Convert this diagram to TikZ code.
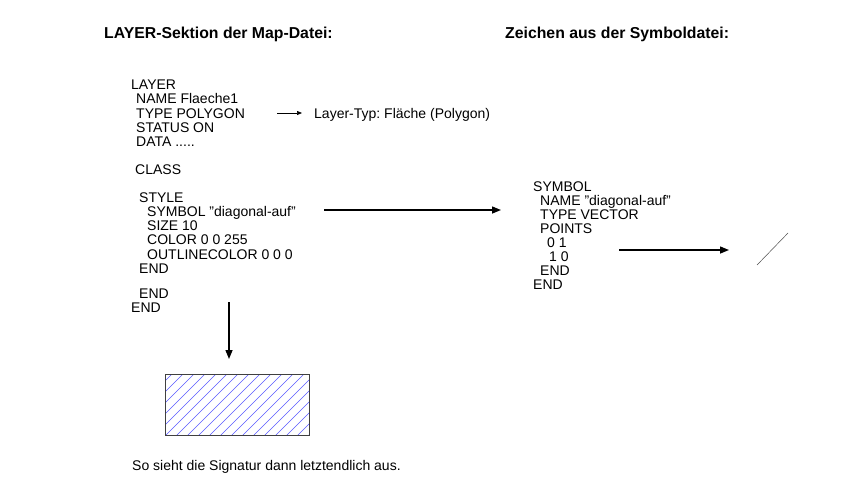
\documentclass[tikz,border=0pt]{standalone}
\usepackage{fontspec}
\setmainfont{Liberation Sans}
\usetikzlibrary{arrows.meta,positioning,calc}
\tikzset{
  code/.style={anchor=base west, inner sep=0pt, font=\fontsize{14}{16}\selectfont},
  heading/.style={anchor=base west, inner sep=0pt, font=\bfseries\fontsize{15.8}{18}\selectfont},
  pointer/.style={-{Triangle[length=9pt,width=7pt]}, line width=1.4pt},
  smallpointer/.style={-{Triangle[length=5pt,width=4pt]}, line width=0.7pt},
  hatch/.style={blue!65, line width=0.6pt}
}
\frenchspacing
\begin{document}
\begin{tikzpicture}[x=1pt,y=-1pt]
  \useasboundingbox (0,0) rectangle (850,501);
  % headings
  \node[heading] (maphead) at (104,38.5) {LAYER-Sektion der Map-Datei:};
  \node[heading] (symhead) at (505,38.5) {Zeichen aus der Symboldatei:};
  % layer section
  \foreach \x/\y/\txt [count=\i] in {131/89/LAYER, 136/103.5/NAME Flaeche1, 136/118/TYPE POLYGON,
      136/132/STATUS ON, 136/146/{DATA .....}, 135/174/CLASS, 139/202/STYLE,
      147/216/SYMBOL "diagonal-auf", 147/230.5/SIZE 10, 147/244.5/COLOR 0 0 255,
      147/259/OUTLINECOLOR 0 0 0, 139/273/END, 139/298/END, 131/312/END}
    \node[code] (map\i) at (\x,\y) {\txt};
  \node[code] (laytyp) at (314,118) {Layer-Typ: Fläche (Polygon)};
  % symbol file
  \foreach \x/\y/\txt [count=\i] in {533/191/SYMBOL, 540/205/NAME "diagonal-auf", 540/219/TYPE VECTOR,
      540/233/POINTS, 547/247/0 1, 549/261/1 0, 540/275/END, 533/289/END}
    \node[code] (sym\i) at (\x,\y) {\txt};
  % connectors
  \coordinate (typstart) at (277,113);
  \coordinate (typend) at (302,113);
  \coordinate (stylestart) at (324,210);
  \coordinate (styleend) at (501,210);
  \coordinate (ptstart) at (619,250);
  \coordinate (ptend) at (729,250);
  \coordinate (downstart) at (229,302);
  \coordinate (downend) at (229,359);
  \draw[smallpointer] (typstart) -- (typend);
  \draw[pointer] (stylestart) -- (styleend);
  \draw[pointer] (ptstart) -- (ptend);
  \draw[pointer] (downstart) -- (downend);
  % vector symbol
  \draw[black!70, line width=0.5pt] (757,265) -- (788,233);
  % result signature
  \node[minimum width=143pt, minimum height=60pt, inner sep=0pt] (sig) at (237.5,405) {};
  \begin{scope}
    \clip (sig.south west) rectangle (sig.north east);
    \foreach \k in {0,...,20}
      \draw[hatch] ($(sig.south west)+(\k*11-66,0)$) -- ++(70,-70);
  \end{scope}
  \draw[black!75, line width=0.9pt] (sig.south west) rectangle (sig.north east);
  \node[code] (caption) at (132,470) {So sieht die Signatur dann letztendlich aus.};
\end{tikzpicture}
\end{document}
